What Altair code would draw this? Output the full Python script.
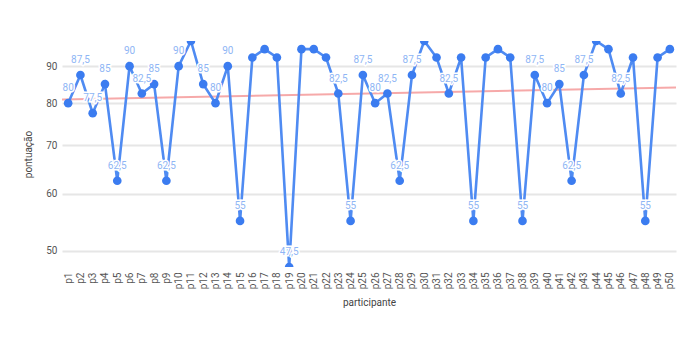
import altair as alt
import pandas as pd

participants = [f"p{i}" for i in range(1, 51)]
scores = [80, 87.5, 77.5, 85, 62.5, 90, 82.5, 85, 62.5, 90,
          97.5, 85, 80, 90, 55, 92.5, 95, 92.5, 47.5, 95,
          95, 92.5, 82.5, 55, 87.5, 80, 82.5, 62.5, 87.5, 97.5,
          92.5, 82.5, 92.5, 55, 92.5, 95, 92.5, 55, 87.5, 80,
          85, 62.5, 87.5, 97.5, 95, 82.5, 92.5, 55, 92.5, 95]
y_ticks = [50, 60, 70, 80, 90]

df = pd.DataFrame({
    "idx": list(range(1, len(participants) + 1)),
    "participante": participants,
    "score": scores,
})

label_expr = "[" + ",".join(f"'{p}'" for p in participants) + "][datum.value - 1]"

x = alt.X("idx:Q",
          scale=alt.Scale(domain=[0.5, len(participants) + 0.5], nice=False, zero=False),
          axis=alt.Axis(title="participante", values=list(range(1, len(participants) + 1)),
                        labelExpr=label_expr, labelAngle=-90, labelAlign="right",
                        labelBaseline="middle", labelOverlap=False, labelFlush=False,
                        labelPadding=5, titlePadding=9,
                        grid=False, domain=False, ticks=False))
y = alt.Y("score:Q",
          scale=alt.Scale(type="log", domain=[47.5, 97.5], nice=False, zero=False),
          axis=alt.Axis(title="pontuação", values=y_ticks, grid=True,
                        gridColor="#e6e6e6", gridWidth=2, domain=False, ticks=False,
                        labelPadding=5, titlePadding=12))

base = alt.Chart(df)

line = base.mark_line(color="#4f8bf2", strokeWidth=2.6, clip=True).encode(x=x, y=y)
points = base.mark_circle(color="#3b7cf0", size=75, opacity=1, clip=True).encode(x=x, y=y)
lab_base = base.transform_filter("datum.score <= 90").transform_calculate(
    lab="replace(toString(datum.score), '.', ',')"
)
halo = lab_base.mark_text(color="white", stroke="white", strokeWidth=3, fontSize=10,
                          font="Roboto", dy=-15, clip=True).encode(x=x, y=y, text="lab:N")
labels = lab_base.mark_text(color="#8fb6f5", fontSize=10, font="Roboto", dy=-15,
                            clip=True).encode(x=x, y=y, text="lab:N")
trend = base.transform_regression(
    "idx", "score", method="linear", extent=[0.5, len(participants) + 0.5]
).mark_line(color="#f59a9a", strokeWidth=2, opacity=0.85, clip=True).encode(x=x, y=y)

chart = alt.layer(trend, line, points, halo, labels).properties(
    width=614, height=226,
    autosize=alt.AutoSizeParams(type="none"),
    padding={"left": 62, "top": 41, "right": 24, "bottom": 83},
).configure_view(stroke=None).configure_axis(
    labelFont="Roboto", titleFont="Roboto", labelFontSize=10, titleFontSize=10,
    labelColor="#555555", titleColor="#444444", titleFontWeight="normal"
)

chart.save("out.html", embed_options={"renderer": "svg", "actions": False})
